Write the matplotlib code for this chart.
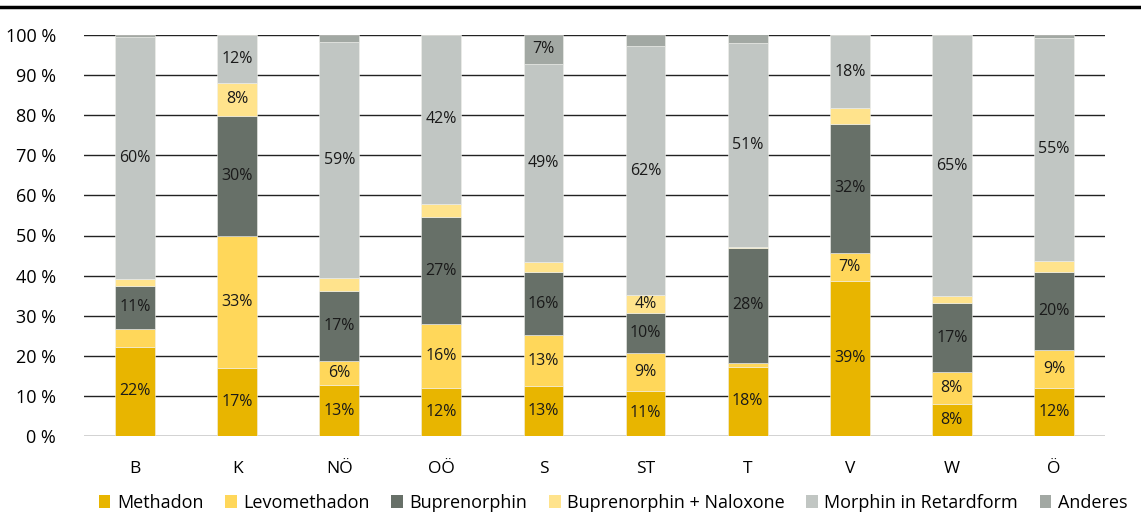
import matplotlib
matplotlib.use("Agg")
import matplotlib.pyplot as plt
from matplotlib.patches import Patch
import numpy as np

categories = ["B", "K", "NÖ", "OÖ", "S", "ST", "T", "V", "W", "Ö"]
series_names = ["Methadon", "Levomethadon", "Buprenorphin", "Buprenorphin + Naloxone",
                "Morphin in Retardform", "Anderes"]

methadon = [22.3, 16.9, 12.7, 12.0, 12.5, 11.3, 17.3, 38.7, 8.1, 12.0]
levomethadon = [4.3, 33.0, 6.0, 15.9, 12.6, 9.4, 1.0, 6.9, 7.8, 9.4]
buprenorphin = [10.9, 30.0, 17.5, 26.7, 15.7, 9.9, 28.5, 32.3, 17.2, 19.5]
bup_naloxone = [1.6, 8.1, 3.1, 3.3, 2.6, 4.5, 0.3, 3.8, 1.7, 2.7]
morphin = [60.5, 12.0, 59.0, 42.1, 49.4, 62.2, 51.0, 18.3, 65.2, 55.7]
anderes = [0.4, 0.0, 1.7, 0.0, 7.2, 2.7, 2.1, 0.0, 0.0, 0.7]

# displayed labels (None = no label)
lab_methadon = ["22%", "17%", "13%", "12%", "13%", "11%", "18%", "39%", "8%", "12%"]
lab_levo = [None, "33%", "6%", "16%", "13%", "9%", None, "7%", "8%", "9%"]
lab_bup = ["11%", "30%", "17%", "27%", "16%", "10%", "28%", "32%", "17%", "20%"]
lab_bupnal = [None, "8%", None, None, None, "4%", None, None, None, None]
lab_morphin = ["60%", "12%", "59%", "42%", "49%", "62%", "51%", "18%", "65%", "55%"]
lab_anderes = [None, None, None, None, "7%", None, None, None, None, None]

yticks = [0, 10, 20, 30, 40, 50, 60, 70, 80, 90, 100]
ytick_labels = ["0 %", "10 %", "20 %", "30 %", "40 %", "50 %", "60 %", "70 %", "80 %", "90 %", "100 %"]

colors = ["#E8B500", "#FFD75A", "#677068", "#FFE38C", "#C1C6C3", "#A2A8A3"]

plt.rcParams['font.family'] = ['Open Sans', 'DejaVu Sans']

fig = plt.figure(figsize=(11.41, 5.15), dpi=100)
ax = fig.add_axes([84/1141, 1-436/515, (1105-84)/1141, (436-35)/515])

data = [methadon, levomethadon, buprenorphin, bup_naloxone, morphin, anderes]
labels = [lab_methadon, lab_levo, lab_bup, lab_bupnal, lab_morphin, lab_anderes]
x = np.arange(len(categories))
bottom = np.zeros(len(categories))
for vals, labs, col, name in zip(data, labels, colors, series_names):
    v = np.array(vals)
    ax.bar(x, v, width=0.39, bottom=bottom, color=col, edgecolor="#f0f0ec",
           linewidth=0.4, zorder=3, label=name)
    for xi, b, h, lab in zip(x, bottom, v, labs):
        if lab:
            ax.text(xi, b + h / 2, lab, ha="center", va="center", fontsize=11.5,
                    color="#1a1a1a", zorder=4)
    bottom += v

ax.set_xlim(-0.5, len(categories) - 0.5)
ax.set_ylim(0, 100)
ax.set_yticks(yticks)
ax.set_yticklabels(ytick_labels, fontsize=13)
ax.set_xticks(x)
ax.set_xticklabels(categories, fontsize=12.5)
ax.tick_params(axis="both", length=0)
ax.tick_params(axis="y", pad=20)
ax.tick_params(axis="x", pad=18)
for s in ax.spines.values():
    s.set_visible(False)
ax.yaxis.grid(True, color="#222222", linewidth=1.0, zorder=0)
ax.set_axisbelow(True)

handles = [Patch(facecolor=c, edgecolor="none") for c in colors]
fig.legend(handles, series_names, loc="center", bbox_to_anchor=(613/1141, 1-503/515),
           ncol=6, frameon=False, fontsize=13, handlelength=0.65, handleheight=0.7,
           handletextpad=0.35, columnspacing=1.2)

# top rule
fig.add_artist(plt.Line2D([0, 1], [1-7/515, 1-7/515], transform=fig.transFigure,
                          color="black", linewidth=2.5))

fig.savefig("out.png", dpi=100)
